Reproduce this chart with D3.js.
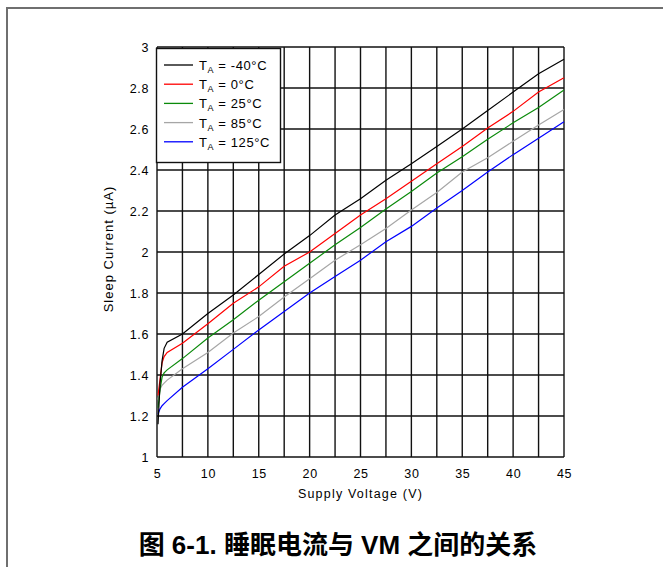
<!DOCTYPE html>
<html>
<head>
<meta charset="utf-8">
<script src="https://cdn.jsdelivr.net/npm/d3@7/dist/d3.min.js"></script>
<style>
  body { margin: 0; background: #fff; }
  svg text { font-family: "Liberation Sans", Arial, sans-serif; fill: #000; }
</style>
</head>
<body>
<script>
// supply voltage (V) sample points
const voltage = [5.1, 5.3, 5.5, 5.7, 6, 7.5, 10, 12.5, 15, 17.5, 20, 22.5, 25, 27.5, 30, 32.5, 35, 37.5, 40, 42.5, 45];

// sleep current (uA) per temperature
const currentM40 = [1.16, 1.36, 1.47, 1.53, 1.56, 1.60, 1.70, 1.79, 1.89, 1.99, 2.08, 2.18, 2.26, 2.35, 2.43, 2.515, 2.60, 2.69, 2.78, 2.87, 2.94];
const current0   = [1.30, 1.38, 1.46, 1.49, 1.51, 1.555, 1.65, 1.75, 1.83, 1.93, 2.00, 2.09, 2.18, 2.26, 2.345, 2.43, 2.515, 2.605, 2.686, 2.78, 2.85];
const current25  = [1.24, 1.33, 1.39, 1.41, 1.425, 1.48, 1.58, 1.67, 1.765, 1.855, 1.945, 2.035, 2.12, 2.21, 2.295, 2.385, 2.465, 2.55, 2.63, 2.705, 2.79];
const current85  = [1.28, 1.33, 1.35, 1.36, 1.375, 1.43, 1.51, 1.605, 1.685, 1.78, 1.87, 1.96, 2.035, 2.115, 2.205, 2.29, 2.39, 2.46, 2.54, 2.62, 2.695];
const current125 = [1.21, 1.235, 1.25, 1.26, 1.275, 1.34, 1.43, 1.525, 1.62, 1.71, 1.80, 1.88, 1.96, 2.05, 2.125, 2.215, 2.30, 2.39, 2.475, 2.555, 2.635];

const tempLabels = ["-40°C", "0°C", "25°C", "85°C", "125°C"];
const xTickLabels = [5, 10, 15, 20, 25, 30, 35, 40, 45];
const yTickLabels = [1, 1.2, 1.4, 1.6, 1.8, 2, 2.2, 2.4, 2.6, 2.8, 3];

const lineColors = ["#000000", "#ff0000", "#0a8a0a", "#a6a6a6", "#0000ff"];

const series = [currentM40, current0, current25, current85, current125].map((vals, i) => ({
  label: tempLabels[i],
  color: lineColors[i],
  points: vals.map((c, j) => [voltage[j], c])
}));

const W = 663, H = 567;
const plotL = 157, plotT = 47, plotR = 564, plotB = 457;

const svg = d3.select("body").append("svg")
  .attr("width", W).attr("height", H);

// outer frame (top + left only)
svg.append("path")
  .attr("d", `M7,${H} V8 H${W}`)
  .attr("fill", "none")
  .attr("stroke", "#6f6f6f")
  .attr("stroke-width", 2);

const x = d3.scaleLinear().domain([5, 45]).range([plotL, plotR]);
const y = d3.scaleLinear().domain([1, 3]).range([plotB, plotT]);

// grid
const grid = svg.append("g").attr("stroke", "#111").attr("stroke-width", 1.4);
grid.selectAll(".vg").data(d3.range(5, 45.01, 2.5)).join("line")
  .attr("class", "vg")
  .attr("x1", d => x(d)).attr("x2", d => x(d))
  .attr("y1", plotT).attr("y2", plotB);
grid.selectAll(".hg").data(yTickLabels).join("line")
  .attr("class", "hg")
  .attr("x1", plotL).attr("x2", plotR)
  .attr("y1", d => y(d)).attr("y2", d => y(d));

// curves, last series drawn first
const line = d3.line().x(d => x(d[0])).y(d => y(d[1]));
svg.append("g").selectAll("path")
  .data(series.slice().reverse())
  .join("path")
  .attr("d", d => line(d.points))
  .attr("fill", "none")
  .attr("stroke", d => d.color)
  .attr("stroke-width", 1.2);

// axes
const xAxis = svg.append("g")
  .attr("transform", `translate(0,${plotB + 9})`)
  .attr("font-family", null)
  .call(d3.axisBottom(x).tickValues(xTickLabels).tickSize(0).tickFormat(d3.format("d")));
xAxis.attr("font-family", null).attr("font-size", null);
xAxis.select(".domain").remove();
xAxis.selectAll("text")
  .attr("font-size", 12.5).attr("letter-spacing", 0.6);

const yAxis = svg.append("g")
  .attr("transform", `translate(${plotL - 5},0)`)
  .call(d3.axisLeft(y).tickValues(yTickLabels).tickSize(0).tickFormat(d => +d.toFixed(1)));
yAxis.attr("font-family", null).attr("font-size", null);
yAxis.select(".domain").remove();
yAxis.selectAll("text")
  .attr("font-size", 12.5).attr("letter-spacing", 0.6);

svg.append("text")
  .attr("x", (plotL + plotR) / 2).attr("y", 498)
  .attr("text-anchor", "middle")
  .attr("font-size", 12.5).attr("letter-spacing", 1.2)
  .text("Supply Voltage (V)");

svg.append("text")
  .attr("transform", `translate(113,${(plotT + plotB) / 2 - 3}) rotate(-90)`)
  .attr("text-anchor", "middle")
  .attr("font-size", 13).attr("letter-spacing", 1)
  .text("Sleep Current (µA)");

// legend
const lg = svg.append("g");
lg.append("rect")
  .attr("x", 156.5).attr("y", 48.5).attr("width", 124).attr("height", 114)
  .attr("fill", "#fff").attr("stroke", "#111").attr("stroke-width", 1.4);
const rows = lg.selectAll(".row").data(series).join("g")
  .attr("class", "row")
  .attr("transform", (d, i) => `translate(0,${65 + i * 19.2})`);
rows.append("line")
  .attr("x1", 164).attr("x2", 193)
  .attr("stroke", d => d.color).attr("stroke-width", 1.3);
const lt = rows.append("text").attr("x", 199).attr("y", 5).attr("font-size", 13).attr("letter-spacing", 0.6);
lt.append("tspan").text("T");
lt.append("tspan").attr("font-size", 9).attr("dy", 3).text("A");
lt.append("tspan").attr("dy", -3).text(d => " = " + d.label);

// caption
svg.append("text")
  .attr("x", 338).attr("y", 554)
  .attr("text-anchor", "middle")
  .attr("font-size", 26).attr("font-weight", "bold")
  .style("font-family", "'Liberation Sans', 'Noto Sans CJK SC', sans-serif")
  .text("图 6-1. 睡眠电流与 VM 之间的关系");
</script>
</body>
</html>
